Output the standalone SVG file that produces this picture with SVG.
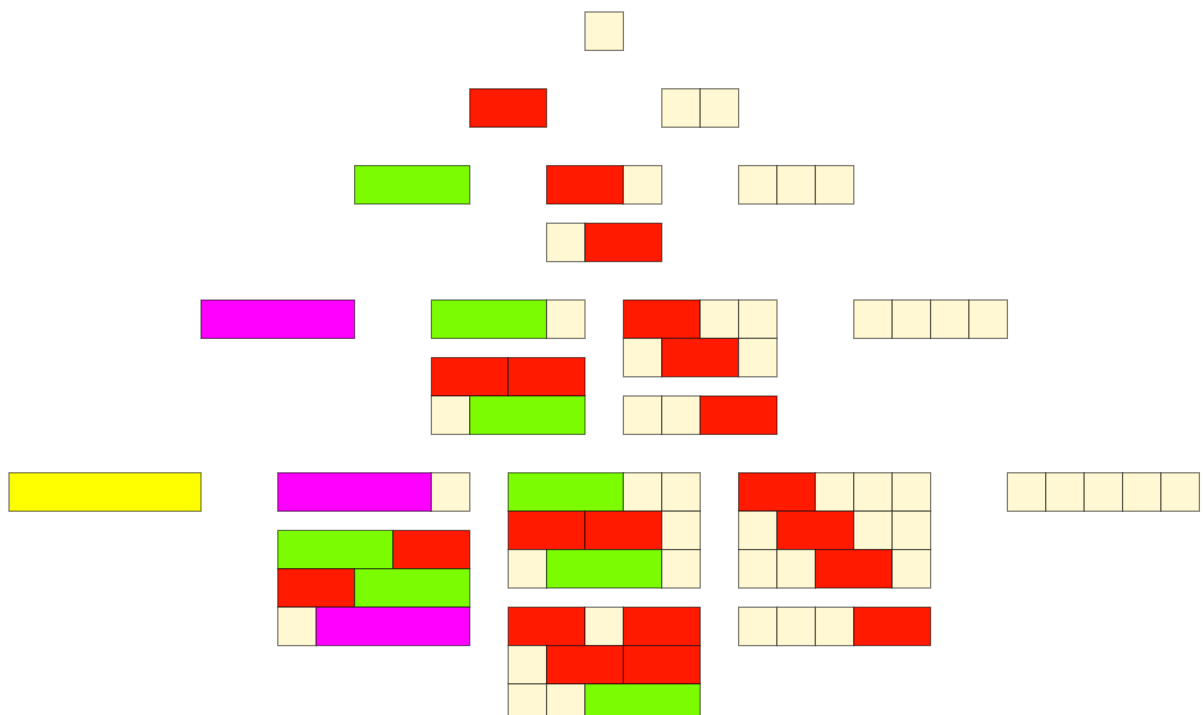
<svg xmlns="http://www.w3.org/2000/svg" width="1203" height="715" viewBox="0 0 1203 715">
<style>
rect{stroke:#000;stroke-opacity:0.5;stroke-width:1.3}
.a{fill:#FFF8D2}.b{fill:#FF1A00}.c{fill:#7CFC00}.d{fill:#FF00FF}.e{fill:#FFFF00}
.w1{width:38.4px;height:38.4px}.w2{width:76.8px;height:38.4px}.w3{width:115.2px;height:38.4px}.w4{width:153.6px;height:38.4px}.w5{width:192px;height:38.4px}
</style>
<rect width="1203" height="715" fill="#fff" style="stroke:none"/>
<g id="n1">
<rect class="a w1" x="585" y="12"/>
</g>
<g id="n2-1"><rect class="b w2" x="469.8" y="88.8"/></g>
<g id="n2-2"><rect class="a w1" x="661.8" y="88.8"/><rect class="a w1" x="700.2" y="88.8"/></g>
<g id="n3-1"><rect class="c w3" x="354.6" y="165.6"/></g>
<g id="n3-2">
<rect class="b w2" x="546.6" y="165.6"/><rect class="a w1" x="623.4" y="165.6"/>
<rect class="a w1" x="546.6" y="223.2"/><rect class="b w2" x="585" y="223.2"/>
</g>
<g id="n3-3"><rect class="a w1" x="738.6" y="165.6"/><rect class="a w1" x="777" y="165.6"/><rect class="a w1" x="815.4" y="165.6"/></g>
<g id="n4-1"><rect class="d w4" x="201" y="300"/></g>
<g id="n4-2">
<rect class="c w3" x="431.4" y="300"/><rect class="a w1" x="546.6" y="300"/>
<rect class="b w2" x="431.4" y="357.6"/><rect class="b w2" x="508.2" y="357.6"/>
<rect class="a w1" x="431.4" y="396"/><rect class="c w3" x="469.8" y="396"/>
</g>
<g id="n4-3">
<rect class="b w2" x="623.4" y="300"/><rect class="a w1" x="700.2" y="300"/><rect class="a w1" x="738.6" y="300"/>
<rect class="a w1" x="623.4" y="338.4"/><rect class="b w2" x="661.8" y="338.4"/><rect class="a w1" x="738.6" y="338.4"/>
<rect class="a w1" x="623.4" y="396"/><rect class="a w1" x="661.8" y="396"/><rect class="b w2" x="700.2" y="396"/>
</g>
<g id="n4-4"><rect class="a w1" x="853.8" y="300"/><rect class="a w1" x="892.2" y="300"/><rect class="a w1" x="930.6" y="300"/><rect class="a w1" x="969" y="300"/></g>
<g id="n5-1"><rect class="e w5" x="9" y="472.8"/></g>
<g id="n5-2">
<rect class="d w4" x="277.8" y="472.8"/><rect class="a w1" x="431.4" y="472.8"/>
<rect class="c w3" x="277.8" y="530.4"/><rect class="b w2" x="393" y="530.4"/>
<rect class="b w2" x="277.8" y="568.8"/><rect class="c w3" x="354.6" y="568.8"/>
<rect class="a w1" x="277.8" y="607.2"/><rect class="d w4" x="316.2" y="607.2"/>
</g>
<g id="n5-3">
<rect class="c w3" x="508.2" y="472.8"/><rect class="a w1" x="623.4" y="472.8"/><rect class="a w1" x="661.8" y="472.8"/>
<rect class="b w2" x="508.2" y="511.2"/><rect class="b w2" x="585" y="511.2"/><rect class="a w1" x="661.8" y="511.2"/>
<rect class="a w1" x="508.2" y="549.6"/><rect class="c w3" x="546.6" y="549.6"/><rect class="a w1" x="661.8" y="549.6"/>
<rect class="b w2" x="508.2" y="607.2"/><rect class="a w1" x="585" y="607.2"/><rect class="b w2" x="623.4" y="607.2"/>
<rect class="a w1" x="508.2" y="645.6"/><rect class="b w2" x="546.6" y="645.6"/><rect class="b w2" x="623.4" y="645.6"/>
<rect class="a w1" x="508.2" y="684"/><rect class="a w1" x="546.6" y="684"/><rect class="c w3" x="585" y="684"/>
</g>
<g id="n5-4">
<rect class="b w2" x="738.6" y="472.8"/><rect class="a w1" x="815.4" y="472.8"/><rect class="a w1" x="853.8" y="472.8"/><rect class="a w1" x="892.2" y="472.8"/>
<rect class="a w1" x="738.6" y="511.2"/><rect class="b w2" x="777" y="511.2"/><rect class="a w1" x="853.8" y="511.2"/><rect class="a w1" x="892.2" y="511.2"/>
<rect class="a w1" x="738.6" y="549.6"/><rect class="a w1" x="777" y="549.6"/><rect class="b w2" x="815.4" y="549.6"/><rect class="a w1" x="892.2" y="549.6"/>
<rect class="a w1" x="738.6" y="607.2"/><rect class="a w1" x="777" y="607.2"/><rect class="a w1" x="815.4" y="607.2"/><rect class="b w2" x="853.8" y="607.2"/>
</g>
<g id="n5-5"><rect class="a w1" x="1007.4" y="472.8"/><rect class="a w1" x="1045.8" y="472.8"/><rect class="a w1" x="1084.2" y="472.8"/><rect class="a w1" x="1122.6" y="472.8"/><rect class="a w1" x="1161" y="472.8"/></g>
<g id="connectors"/>
</svg>
